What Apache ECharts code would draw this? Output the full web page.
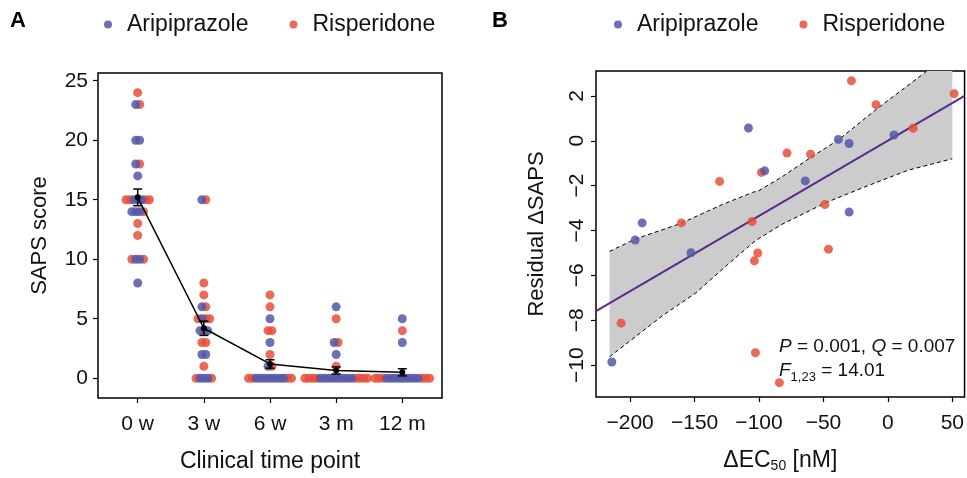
<!DOCTYPE html>
<html><head><meta charset="utf-8">
<script src="https://cdn.jsdelivr.net/npm/echarts@6/dist/echarts.min.js"></script>
<style>html,body{margin:0;padding:0;background:#fff}#c{width:967px;height:478px}</style>
</head><body><div id="c"></div>
<script>
// ---------- Panel A data ----------
const timePoints = ['0 w', '3 w', '6 w', '3 m', '12 m'];
const ari_0w = [23, 20, 20, 18, 17, 15, 15, 15, 14, 14, 14, 10, 10, 8];
const ris_0w = [24, 23, 18, 15, 15, 15, 15, 14, 13, 12, 10, 10];
const ari_3w = [15, 6, 5, 4, 4, 4, 2, 2, 0, 0, 0];
const ris_3w = [15, 8, 7, 6, 5, 5, 5, 3, 3, 1, 0, 0];
const ari_6w = [5, 3, 1, 0, 0, 0, 0, 0, 0, 0, 0];
const ris_6w = [7, 6, 4, 4, 2, 1, 0, 0, 0, 0];
const ari_3m = [6, 3, 2, 0, 0, 0, 0, 0, 0, 0, 0, 0];
const ris_3m = [5, 3, 1, 0, 0, 0, 0, 0, 0, 0, 0];
const ari_12m = [5, 3, 0, 0, 0, 0, 0, 0, 0, 0, 0];
const ris_12m = [4, 0, 0, 0, 0, 0, 0];
const meanSAPS = [15.2, 4.2, 1.2, 0.65, 0.5];
const semSAPS = [0.7, 0.6, 0.35, 0.3, 0.3];
const yTicksA = [0, 5, 10, 15, 20, 25];

// ---------- Panel B data ----------
const ariEC50 = [-108.2, -95.6, -190.7, -196.1, -152.8, -214.2, 4.7, -38.4, -30.1, -64.1, -30.1];
const ariResid = [0.57, -1.34, -3.66, -4.42, -4.99, -9.86, 0.26, 0.06, -0.12, -1.79, -3.18];
const risEC50 = [-28.3, 51.4, -9.2, 19.6, -78.3, -60, -98.1, -130.6, -160.2, -105.3, -48.9, -101, -103.6, -46.1, -207, -102.8, -84.2];
const risResid = [2.67, 2.10, 1.61, 0.56, -0.55, -0.6, -1.41, -1.81, -3.66, -3.60, -2.84, -5.0, -5.35, -4.83, -8.13, -9.45, -10.78];
const fitX = [-226.5, 59.5];
const fitY = [-7.59, 2.0];
const bandUpperX = [-216, -196, -161, -128.5, -105, -100, -82, -60, -38.4, -9, 28.5, 50];
const bandUpperY = [-4.93, -4.38, -3.69, -2.84, -2.30, -2.22, -1.60, -0.75, 0.04, 1.40, 3.03, 4.1];
const bandLowerX = [-216, -175, -149, -123.4, -102.8, -82, -48.6, -20.3, 15.8, 50];
const bandLowerY = [-9.63, -7.80, -6.78, -5.47, -4.45, -3.72, -2.77, -2.11, -1.31, -0.80];
const xTicksB = [-200, -150, -100, -50, 0, 50];
const yTicksB = [-10, -8, -6, -4, -2, 0, 2];

// ---------- layout helpers ----------
const FONT = 'Liberation Sans, Arial, sans-serif';
const BLUE = '#5357a8', RED = '#e84f3a', TXT = '#111';
const spacing = 0.059;
const ariDots = [], risDots = [];
function swarm(ariVals, risVals, t) {
  const vals = Array.from(new Set(ariVals.concat(risVals)));
  vals.forEach(v => {
    const nA = ariVals.filter(a => a === v).length;
    const nR = risVals.filter(r => r === v).length;
    const n = nA + nR;
    const offs = [];
    for (let k = 0; k < n; k++) offs.push((k - (n - 1) / 2) * spacing);
    offs.sort((a, b) => Math.abs(a) - Math.abs(b) || a - b);
    offs.forEach((o, i) => (i < nA ? ariDots : risDots).push([t + o, v]));
  });
}
[[ari_0w, ris_0w], [ari_3w, ris_3w], [ari_6w, ris_6w], [ari_3m, ris_3m], [ari_12m, ris_12m]]
  .forEach((p, t) => swarm(p[0], p[1], t));

const minus = v => (v < 0 ? '\u2212' + Math.abs(v) : String(v));
const tickStyle = { show: true, length: 5, lineStyle: { color: '#000', width: 1.2 } };
const noLine = { show: false, onZero: false };
const legendCommon = { top: 8, itemWidth: 28, itemHeight: 8, itemGap: 41, icon: 'circle',
  data: ['Aripiprazole', 'Risperidone'], textStyle: { fontSize: 23, color: TXT, fontFamily: FONT } };

const chart = echarts.init(document.getElementById('c'), null, { renderer: 'canvas' });
chart.setOption({
  animation: false,
  backgroundColor: '#fff',
  textStyle: { fontFamily: FONT, color: TXT },
  legend: [
    Object.assign({ left: 99 }, legendCommon),
    Object.assign({ left: 609 }, legendCommon)
  ],
  grid: [
    { left: 98, top: 73, width: 344, height: 329, show: true, borderColor: '#000', borderWidth: 1.5, backgroundColor: 'transparent' },
    { left: 596, top: 71, width: 370, height: 331, show: true, borderColor: '#000', borderWidth: 1.5, backgroundColor: 'transparent' }
  ],
  xAxis: [
    { type: 'value', gridIndex: 0, min: -0.6, max: 4.6,
      axisLine: noLine, splitLine: { show: false },
      axisTick: Object.assign({ customValues: [0, 1, 2, 3, 4] }, tickStyle),
      axisLabel: { customValues: [0, 1, 2, 3, 4], formatter: v => timePoints[Math.round(v)], fontSize: 21, color: TXT, margin: 16 },
      name: 'Clinical time point', nameLocation: 'middle', nameGap: 52, nameTextStyle: { fontSize: 23, color: TXT } },
    { type: 'value', gridIndex: 1, min: -226.5, max: 59.5,
      axisLine: noLine, splitLine: { show: false },
      axisTick: Object.assign({ customValues: xTicksB }, tickStyle),
      axisLabel: { customValues: xTicksB, formatter: minus, fontSize: 21, color: TXT, margin: 16 },
      name: '{a|\u0394EC}{s|50}{a| [nM]}', nameLocation: 'middle', nameGap: 52,
      nameTextStyle: { fontSize: 23, color: TXT, rich: { a: { fontSize: 23, color: TXT }, s: { fontSize: 14, color: TXT, padding: [10, 0, 0, 0] } } } }
  ],
  yAxis: [
    { type: 'value', gridIndex: 0, min: -1.66, max: 25.65,
      axisLine: noLine, splitLine: { show: false },
      axisTick: Object.assign({ customValues: yTicksA }, tickStyle),
      axisLabel: { customValues: yTicksA, fontSize: 21, color: TXT, margin: 10 },
      name: 'SAPS score', nameLocation: 'middle', nameGap: 47, nameTextStyle: { fontSize: 22, color: TXT } },
    { type: 'value', gridIndex: 1, min: -11.42, max: 3.11,
      axisLine: noLine, splitLine: { show: false },
      axisTick: Object.assign({ customValues: yTicksB }, tickStyle),
      axisLabel: { customValues: yTicksB, formatter: minus, rotate: 90, fontSize: 21, color: TXT, margin: 8 },
      name: 'Residual \u0394SAPS', nameLocation: 'middle', nameGap: 48, nameTextStyle: { fontSize: 22, color: TXT } }
  ],
  series: [
    // Panel A dots
    { name: 'Risperidone', type: 'scatter', xAxisIndex: 0, yAxisIndex: 0, data: risDots, symbolSize: 9,
      itemStyle: { color: RED, opacity: 0.85 }, z: 2 },
    { name: 'Aripiprazole', type: 'scatter', xAxisIndex: 0, yAxisIndex: 0, data: ariDots, symbolSize: 9,
      itemStyle: { color: BLUE, opacity: 0.85 }, z: 3 },
    { type: 'line', xAxisIndex: 0, yAxisIndex: 0, data: meanSAPS.map((m, i) => [i, m]),
      symbol: 'circle', symbolSize: 6, itemStyle: { color: '#000' }, lineStyle: { color: '#000', width: 1.5 }, z: 5 },
    { type: 'custom', xAxisIndex: 0, yAxisIndex: 0, z: 6,
      data: meanSAPS.map((m, i) => [i, m, semSAPS[i]]),
      renderItem: (params, api) => {
        const x = api.value(0), m = api.value(1), s = api.value(2);
        const t = api.coord([x, m + s]), b = api.coord([x, m - s]);
        const st = { stroke: '#000', lineWidth: 1.5 };
        return { type: 'group', children: [
          { type: 'line', shape: { x1: t[0], y1: t[1], x2: b[0], y2: b[1] }, style: st },
          { type: 'line', shape: { x1: t[0] - 4.5, y1: t[1], x2: t[0] + 4.5, y2: t[1] }, style: st },
          { type: 'line', shape: { x1: b[0] - 4.5, y1: b[1], x2: b[0] + 4.5, y2: b[1] }, style: st }
        ] };
      } },
    // Panel B band
    { type: 'custom', xAxisIndex: 1, yAxisIndex: 1, clip: true, z: 1, data: [[0, 0]],
      renderItem: (params, api) => {
        const pts = [];
        bandUpperX.forEach((x, i) => pts.push(api.coord([x, bandUpperY[i]])));
        for (let i = bandLowerX.length - 1; i >= 0; i--) pts.push(api.coord([bandLowerX[i], bandLowerY[i]]));
        return { type: 'polygon', shape: { points: pts }, style: { fill: '#cccccc' } };
      } },
    { type: 'line', xAxisIndex: 1, yAxisIndex: 1, data: bandUpperX.map((x, i) => [x, bandUpperY[i]]), symbol: 'none',
      lineStyle: { color: '#000', width: 1, type: [4, 3] }, z: 2 },
    { type: 'line', xAxisIndex: 1, yAxisIndex: 1, data: bandLowerX.map((x, i) => [x, bandLowerY[i]]), symbol: 'none',
      lineStyle: { color: '#000', width: 1, type: [4, 3] }, z: 2 },
    { type: 'line', xAxisIndex: 1, yAxisIndex: 1, data: fitX.map((x, i) => [x, fitY[i]]), symbol: 'none',
      lineStyle: { color: '#5b2a8c', width: 2 }, z: 3 },
    { name: 'Risperidone', type: 'scatter', xAxisIndex: 1, yAxisIndex: 1, data: risEC50.map((x, i) => [x, risResid[i]]),
      symbolSize: 9, itemStyle: { color: RED, opacity: 0.85 }, z: 4 },
    { name: 'Aripiprazole', type: 'scatter', xAxisIndex: 1, yAxisIndex: 1, data: ariEC50.map((x, i) => [x, ariResid[i]]),
      symbolSize: 9, itemStyle: { color: BLUE, opacity: 0.85 }, z: 5 }
  ],
  graphic: [
    { type: 'text', x: 10, y: 21, style: { text: 'A', fontSize: 22, fontWeight: 'bold', fontFamily: FONT, fill: '#000', verticalAlign: 'middle' } },
    { type: 'text', x: 492, y: 21, style: { text: 'B', fontSize: 22, fontWeight: 'bold', fontFamily: FONT, fill: '#000', verticalAlign: 'middle' } },
    { type: 'text', x: 779, y: 347, z: 10, style: { text: '{i|P}{n| = 0.001, }{i|Q}{n| = 0.007}', align: 'left', verticalAlign: 'middle',
      rich: { i: { fontStyle: 'italic', fontSize: 19, fontFamily: FONT, fill: TXT }, n: { fontSize: 19, fontFamily: FONT, fill: TXT } } } },
    { type: 'text', x: 779, y: 371, z: 10, style: { text: '{i|F}{s|1,23}{n| = 14.01}', align: 'left', verticalAlign: 'middle',
      rich: { i: { fontStyle: 'italic', fontSize: 19, fontFamily: FONT, fill: TXT }, n: { fontSize: 19, fontFamily: FONT, fill: TXT },
        s: { fontSize: 13, fontFamily: FONT, fill: TXT, padding: [12, 0, 0, 0] } } } }
  ]
});
</script></body></html>
